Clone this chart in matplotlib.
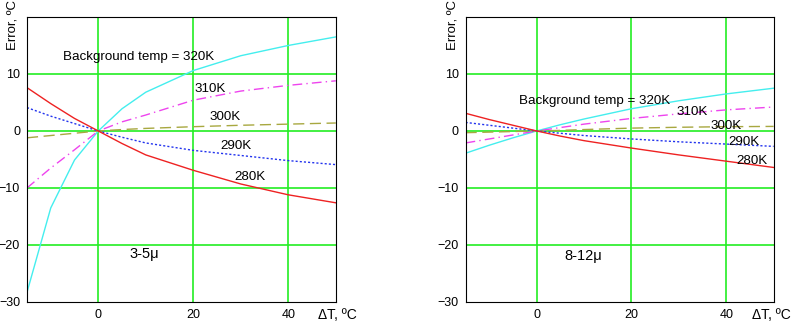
import matplotlib
matplotlib.use("Agg")
import matplotlib.pyplot as plt

plt.rcParams["font.family"] = ["Liberation Sans", "DejaVu Sans"]

# delta T (deg C) where curves were read
dT = [-15, -10, -5, 0, 5, 10, 20, 30, 40, 50]

# 3-5 micron band, error (deg C) per background temperature
mw_320 = [-28.3, -13.5, -5.1, 0, 3.9, 6.8, 10.6, 13.2, 15.0, 16.5]
mw_310 = [-10.0, -6.5, -3.3, 0, 1.6, 2.8, 5.4, 7.0, 8.0, 8.8]
mw_300 = [-1.2, -0.8, -0.4, 0, 0.25, 0.45, 0.75, 1.0, 1.2, 1.4]
mw_290 = [4.1, 2.6, 1.3, 0, -1.1, -2.1, -3.4, -4.3, -5.2, -5.9]
mw_280 = [7.6, 4.8, 2.2, 0, -2.2, -4.2, -6.9, -9.3, -11.2, -12.6]

# 8-12 micron band
lw_320 = [-3.9, -2.5, -1.2, 0, 1.1, 2.1, 3.9, 5.3, 6.5, 7.5]
lw_310 = [-2.1, -1.4, -0.7, 0, 0.6, 1.2, 2.2, 3.0, 3.7, 4.2]
lw_300 = [-0.3, -0.2, -0.1, 0, 0.1, 0.25, 0.5, 0.65, 0.75, 0.8]
lw_290 = [1.5, 1.0, 0.5, 0, -0.4, -0.8, -1.4, -1.9, -2.3, -2.7]
lw_280 = [3.1, 2.0, 1.0, 0, -0.9, -1.7, -3.0, -4.2, -5.3, -6.4]

xticks = [0, 20, 40]
yticks = [-30, -20, -10, 0, 10]

styles = {
    "320": dict(color="#44eeee", ls="-"),
    "310": dict(color="#ee44ee", ls=(0, (7, 3, 1, 3))),
    "300": dict(color="#a8a840", ls=(0, (8, 4))),
    "290": dict(color="#2233ee", ls=(0, (1.5, 1.5))),
    "280": dict(color="#ee2222", ls="-"),
}

fig = plt.figure(figsize=(8, 3.28), dpi=100)

def panel(rect, series, labels, band, band_pos, err_x, dt_x):
    ax = fig.add_axes(rect)
    for key, ys in series.items():
        ax.plot(dT, ys, lw=1.0, **styles[key])
    ax.set_xlim(-15, 50)
    ax.set_ylim(-30, 20)
    for v in xticks:
        ax.axvline(v, color="#22ee22", lw=1.2, zorder=0)
    for v in yticks[1:]:
        ax.axhline(v, color="#22ee22", lw=1.2, zorder=0)
    ax.set_xticks(xticks)
    ax.set_yticks(yticks)
    ax.tick_params(length=0, labelsize=9, pad=5)
    for s in ax.spines.values():
        s.set_linewidth(0.8)
    for txt, (x, y) in labels.items():
        ax.text(x, y, txt, fontsize=9.6, ha="left", va="center")
    ax.text(band_pos[0], band_pos[1], band, fontsize=10.5, ha="left", va="center")
    fig.text(err_x, 1.0, "Error, \u00baC", rotation=90, fontsize=9.5,
             ha="center", va="top")
    fig.text(dt_x, 0.04, "\u0394T, \u00baC", fontsize=10, ha="left", va="center")
    return ax

panel([0.03375, 0.0793, 0.386, 0.869],
      {"320": mw_320, "310": mw_310, "300": mw_300, "290": mw_290, "280": mw_280},
      {"Background temp = 320K": (-7.4, 12.9), "310K": (20.2, 7.4),
       "300K": (23.4, 2.4), "290K": (25.8, -2.7), "280K": (28.6, -8.0)},
      "3-5\u03bc", (6.5, -21.6), 0.016, 0.397)

panel([0.582, 0.0793, 0.385, 0.869],
      {"320": lw_320, "310": lw_310, "300": lw_300, "290": lw_290, "280": lw_280},
      {"Background temp = 320K": (-3.7, 5.3), "310K": (29.6, 3.3),
       "300K": (36.6, 0.9), "290K": (40.5, -2.0), "280K": (42.2, -5.3)},
      "8-12\u03bc", (5.8, -21.9), 0.566, 0.940)

fig.savefig("out.png", dpi=100)
